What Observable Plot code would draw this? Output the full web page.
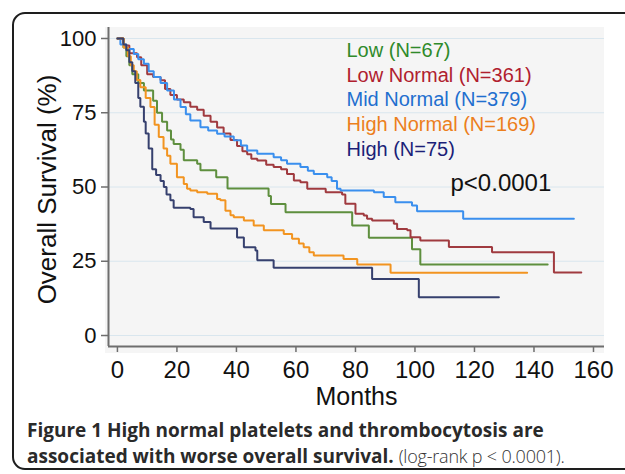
<!DOCTYPE html>
<html>
<head>
<meta charset="utf-8">
<script src="https://cdn.jsdelivr.net/npm/d3@7"></script>
<script src="https://cdn.jsdelivr.net/npm/@observablehq/plot@0.6"></script>
<style>
  html, body { margin: 0; padding: 0; background: #fff; }
  #page { position: relative; width: 625px; height: 474px; overflow: hidden; }
  #box { position: absolute; left: 12px; top: 12px; width: 720px; height: 458px;
         border: 2px solid #1e1e1e; border-radius: 13px; box-sizing: border-box; }
  #panel { position: absolute; left: 105px; top: 27px; width: 499px; height: 326px; background: #f5f5f5; }
  #chart { position: absolute; left: 0; top: 0; }
  #caption { position: absolute; left: 27px; top: 417px; width: 600px;
             font-family: "Open Sans", sans-serif; font-size: 19px; line-height: 26px; color: #2a2a2a; white-space: nowrap; }
  #caption b { font-weight: 700; }
  #caption .lite { font-weight: 300; font-size: 18px; color: #333; letter-spacing: -0.2px; }
</style>
</head>
<body>
<div id="page">
  <div id="box"></div>
  <div id="panel"></div>
  <div id="chart"></div>
  <div id="caption"><b>Figure 1 High normal platelets and thrombocytosis are</b><br><b>associated with worse overall survival.</b> <span class="lite">(log-rank p &lt; 0.0001).</span></div>
</div>
<script>
const groups = ["Low", "Low Normal", "Mid Normal", "High Normal", "High"];
const legendLabels = ["Low (N=67)", "Low Normal (N=361)", "Mid Normal (N=379)", "High Normal (N=169)", "High (N=75)"];
const textColors = ["#2f8a2a", "#b0202e", "#1f6fcf", "#ec7f1c", "#1b1f78"];
const lineColors = ["#5e8f3e", "#a03a3f", "#3a8fee", "#f29420", "#36406e"];

const lowMonths = [0, 2, 3, 4, 5, 7, 8.9, 12, 13.3, 15, 16.7, 18, 18.9, 21.2, 22.3, 26.8, 27.9, 33.2, 37, 50.8, 51.6, 56.5, 78.9, 84.5, 99, 101.8, 144.6];
const lowSurv   = [100, 97, 94, 91, 88, 85, 82.5, 79, 75, 72, 69, 66, 64.5, 62.5, 59, 57.8, 55.6, 53.3, 49.5, 47, 44.3, 41.5, 37, 32.9, 29, 23.9, 23.9];

const lowNormMonths = [0, 2, 4, 6.6, 8, 10, 12, 14.5, 16, 17.8, 20, 22.3, 24.5, 26.8, 29, 31.3, 33.5, 35.7, 38, 40.2, 42, 43.6, 45, 47, 50, 52.5, 55, 57, 59.3, 61.5, 63.8, 70, 75.5, 76.6, 80, 82.8, 83.9, 85.6, 92.9, 94, 97.4, 98.5, 101.8, 111.4, 125.9, 146.7, 155.9];
const lowNormSurv   = [100, 97.6, 95, 93.7, 91, 88, 87, 85.9, 83, 81, 79.5, 78.5, 77, 76, 74, 72, 70, 68, 65.8, 63.8, 62, 61, 59.5, 58.9, 57.5, 56.7, 56, 54.4, 52.2, 51.6, 49.4, 48.2, 47.5, 44.4, 41, 40.4, 39.3, 38.7, 37.6, 35.9, 35.4, 33.1, 32, 29.8, 28, 21.2, 21.2];

const midNormMonths = [0, 1, 3, 5.5, 7, 8.9, 10.5, 12.2, 14.5, 16.7, 19, 21.2, 23, 24.5, 27.9, 30.5, 33.5, 36, 39.1, 41.5, 43.6, 47, 52.5, 55, 57, 61.5, 64, 66, 70.5, 72, 73.8, 75, 86.2, 89.5, 93.4, 99, 100.7, 116.2, 153.4];
const midNormSurv   = [100, 98, 96.5, 94.8, 93, 91.5, 89, 87, 85, 82.5, 79.5, 76.9, 74.5, 72.4, 70.1, 69, 67.9, 67, 65.7, 64, 62.3, 61.2, 60, 59, 57.8, 56.7, 55.5, 54.4, 53.3, 52, 49.4, 48.8, 48.2, 46.6, 44.9, 43.8, 41.8, 39.3, 39.3];

const highNormMonths = [0, 2.1, 3.5, 4.5, 5.5, 6.5, 7.7, 9.5, 11.1, 12.5, 13.9, 15.5, 16.7, 17.8, 20, 22.3, 23.4, 24.5, 26.8, 30.2, 33.5, 34.6, 36.3, 38, 39.1, 42.5, 45.8, 49.2, 55.9, 58.7, 61, 62.6, 64.5, 66, 76, 80.6, 91.8, 137.7];
const highNormSurv   = [100, 97, 94, 91, 89, 86, 83.6, 80, 76.9, 71, 66.8, 63, 60.5, 57.8, 53.3, 51, 49.4, 48.8, 48.2, 47.7, 46, 45.5, 42, 40.5, 39.8, 38.7, 37, 35.4, 34.2, 32.6, 31, 29.7, 28, 26.9, 25.8, 23.9, 21.1, 21.1];

const highMonths = [0, 2, 3, 4, 5, 6, 7, 7.7, 8.9, 9.5, 10.5, 11.7, 13, 14.5, 15.6, 16.5, 17.8, 18.9, 24.5, 25.6, 29, 31.3, 40.2, 42.5, 46.4, 47, 52.5, 85.6, 101.3, 128.2];
const highSurv   = [100, 98, 96, 92, 89, 85, 80, 77, 72, 68, 63, 56, 54, 52, 50, 47.5, 45.5, 43, 42.6, 39.8, 38.2, 36, 33, 29.7, 28.6, 25.3, 22.8, 19, 12.9, 12.9];

const xTicks = [0, 20, 40, 60, 80, 100, 120, 140, 160];
const yTicks = [0, 25, 50, 75, 100];
const pText = "p<0.0001";

// ---- Build long table ----
const seriesMonths = [lowMonths, lowNormMonths, midNormMonths, highNormMonths, highMonths];
const seriesSurv = [lowSurv, lowNormSurv, midNormSurv, highNormSurv, highSurv];
const rows = [];
groups.forEach((g, gi) => {
  seriesMonths[gi].forEach((m, i) => rows.push({group: g, month: m, surv: seriesSurv[gi][i]}));
});

const font = "'Liberation Sans', Arial, sans-serif";
const axisColor = "#6e6e6e";

const legendMarks = legendLabels.map((lab, i) =>
  Plot.text([lab], {
    text: d => d, frameAnchor: "top-left", dx: 238, dy: 23 + i * 24.7,
    textAnchor: "start", lineAnchor: "middle", fill: textColors[i], fontSize: 20, fontFamily: font
  })
);

const chart = Plot.plot({
  width: 625,
  height: 410,
  marginLeft: 108,
  marginRight: 21,
  marginTop: 27,
  marginBottom: 64,
  style: {background: "transparent", fontFamily: font, overflow: "visible"},
  x: {domain: [-3, 163.7], ticks: xTicks, tickFormat: d => String(d), label: null},
  y: {domain: [-3.7, 103.7], ticks: yTicks, tickFormat: d => String(d), label: null},
  color: {domain: groups, range: lineColors},
  marks: [
    Plot.gridY(yTicks, {stroke: "#d9e6ee", strokeOpacity: 1, strokeWidth: 1}),
    Plot.line(rows, {x: "month", y: "surv", z: "group", stroke: "group", curve: "step-after", strokeWidth: 2, strokeLinejoin: "miter"}),
    Plot.ruleX([-3], {stroke: axisColor, strokeWidth: 2}),
    Plot.ruleY([-3.7], {stroke: axisColor, strokeWidth: 2}),
    Plot.axisX(xTicks, {tickSize: 6, tickPadding: 8, fontSize: 24, fill: "#111", stroke: axisColor, strokeWidth: 1.5, label: null, fontFamily: font}),
    Plot.axisY(yTicks, {tickSize: 7, tickPadding: 5, fontSize: 22, fill: "#111", stroke: axisColor, strokeWidth: 1.5, label: null, fontFamily: font}),
    Plot.text(["Months"], {text: d => d, frameAnchor: "bottom", dy: 50, lineAnchor: "middle", fontSize: 25, fill: "#111", fontFamily: font}),
    Plot.text(["Overall Survival (%)"], {text: d => d, frameAnchor: "left", dx: -61, dy: 2.5, rotate: -90, textAnchor: "middle", lineAnchor: "middle", fontSize: 26, fill: "#111", fontFamily: font}),
    ...legendMarks,
    Plot.text([pText], {text: d => d, frameAnchor: "top-left", dx: 342, dy: 156, textAnchor: "start", lineAnchor: "middle", fontSize: 24, fill: "#111", fontFamily: font})
  ]
});
document.getElementById("chart").appendChild(chart);
</script>
</body>
</html>
